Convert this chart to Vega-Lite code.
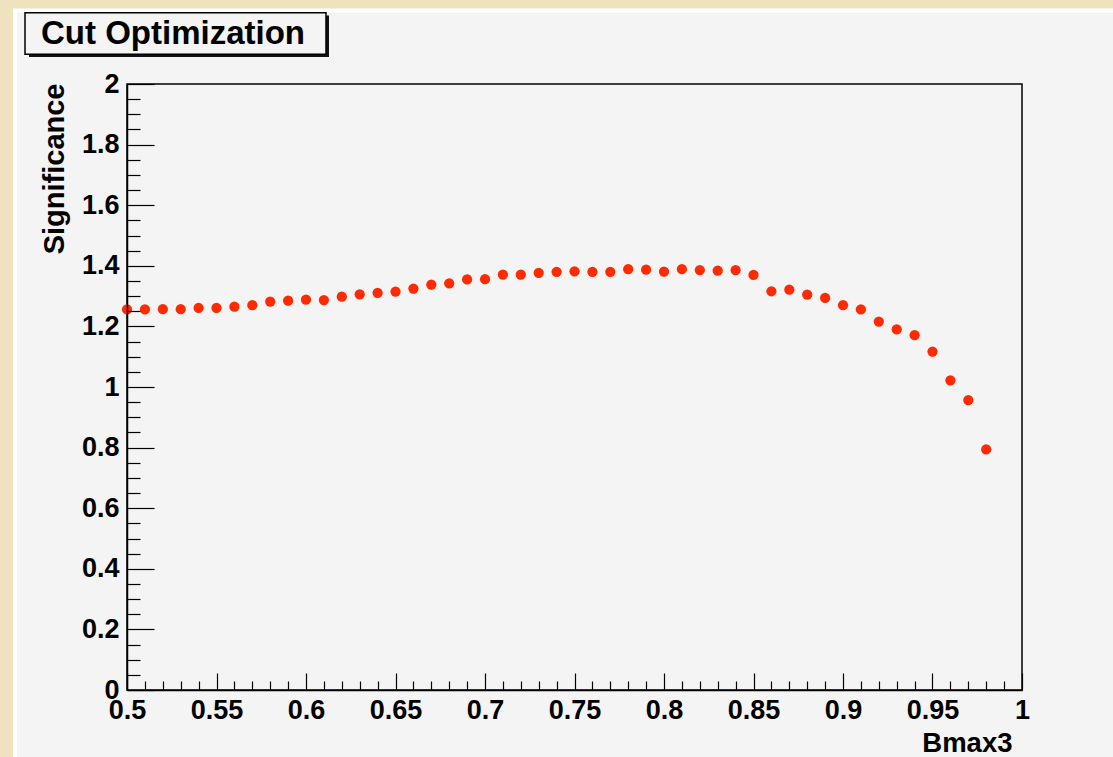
{
  "$schema": "https://vega.github.io/schema/vega-lite/v6.json",
  "width": 895,
  "height": 606,
  "autosize": {"type": "none"},
  "padding": {"left": 127, "top": 84, "right": 91, "bottom": 67},
  "background": "#efe2bf",
  "config": {
    "view": {"stroke": null, "fill": "#f4f4f4"},
    "font": "Liberation Sans",
    "axis": {"zindex": 1, "domainColor": "black", "tickColor": "black", "domainWidth": 1.5, "tickWidth": 1.2, "grid": false}
  },
  "title": {
    "text": "Cut Optimization",
    "anchor": "start",
    "frame": "group",
    "dx": -86,
    "offset": -69,
    "baseline": "alphabetic",
    "font": "Liberation Sans",
    "fontSize": 33,
    "fontWeight": "bold",
    "color": "black",
    "zindex": 1
  },
  "data": {"values": [
    {"cut": 0.50, "sig": 1.256}, {"cut": 0.51, "sig": 1.256}, {"cut": 0.52, "sig": 1.257}, {"cut": 0.53, "sig": 1.257},
    {"cut": 0.54, "sig": 1.261}, {"cut": 0.55, "sig": 1.261}, {"cut": 0.56, "sig": 1.265}, {"cut": 0.57, "sig": 1.270},
    {"cut": 0.58, "sig": 1.282}, {"cut": 0.59, "sig": 1.285}, {"cut": 0.60, "sig": 1.288}, {"cut": 0.61, "sig": 1.287},
    {"cut": 0.62, "sig": 1.298}, {"cut": 0.63, "sig": 1.306}, {"cut": 0.64, "sig": 1.311}, {"cut": 0.65, "sig": 1.315},
    {"cut": 0.66, "sig": 1.325}, {"cut": 0.67, "sig": 1.338}, {"cut": 0.68, "sig": 1.342}, {"cut": 0.69, "sig": 1.355},
    {"cut": 0.70, "sig": 1.356}, {"cut": 0.71, "sig": 1.371}, {"cut": 0.72, "sig": 1.371}, {"cut": 0.73, "sig": 1.377},
    {"cut": 0.74, "sig": 1.380}, {"cut": 0.75, "sig": 1.382}, {"cut": 0.76, "sig": 1.380}, {"cut": 0.77, "sig": 1.380},
    {"cut": 0.78, "sig": 1.389}, {"cut": 0.79, "sig": 1.387}, {"cut": 0.80, "sig": 1.381}, {"cut": 0.81, "sig": 1.389},
    {"cut": 0.82, "sig": 1.386}, {"cut": 0.83, "sig": 1.384}, {"cut": 0.84, "sig": 1.386}, {"cut": 0.85, "sig": 1.370},
    {"cut": 0.86, "sig": 1.316}, {"cut": 0.87, "sig": 1.321}, {"cut": 0.88, "sig": 1.305}, {"cut": 0.89, "sig": 1.294},
    {"cut": 0.90, "sig": 1.270}, {"cut": 0.91, "sig": 1.256}, {"cut": 0.92, "sig": 1.216}, {"cut": 0.93, "sig": 1.190},
    {"cut": 0.94, "sig": 1.171}, {"cut": 0.95, "sig": 1.117}, {"cut": 0.96, "sig": 1.022}, {"cut": 0.97, "sig": 0.957},
    {"cut": 0.98, "sig": 0.794}
  ]},
  "resolve": {"axis": {"x": "independent", "y": "independent"}},
  "layer": [
    {
      "data": {"values": [{}]},
      "mark": {"type": "rect", "fill": "#f4f4f4", "stroke": "white", "strokeWidth": 4, "clip": false},
      "encoding": {
        "x": {"datum": 0.4374, "type": "quantitative", "scale": {"domain": [0.5, 1], "nice": false, "zero": false}, "axis": null},
        "x2": {"datum": 1.2},
        "y": {"datum": 2.2426, "type": "quantitative", "scale": {"domain": [0, 2], "nice": false, "zero": false}, "axis": null},
        "y2": {"datum": -0.5}
      }
    },
    {
      "data": {"values": [{}]},
      "mark": {"type": "rect", "fill": "#111111", "clip": false},
      "encoding": {
        "x": {"datum": 0.44525, "type": "quantitative", "scale": {"domain": [0.5, 1], "nice": false, "zero": false}, "axis": null},
        "x2": {"datum": 0.61285},
        "y": {"datum": 2.2261, "type": "quantitative", "scale": {"domain": [0, 2], "nice": false, "zero": false}, "axis": null},
        "y2": {"datum": 2.0891}
      }
    },
    {
      "data": {"values": [{}]},
      "mark": {"type": "rect", "fill": "#f4f4f4", "stroke": "black", "strokeWidth": 1.5, "clip": false},
      "encoding": {
        "x": {"datum": 0.44302, "type": "quantitative", "scale": {"domain": [0.5, 1], "nice": false, "zero": false}, "axis": null},
        "x2": {"datum": 0.61117},
        "y": {"datum": 2.2353, "type": "quantitative", "scale": {"domain": [0, 2], "nice": false, "zero": false}, "axis": null},
        "y2": {"datum": 2.098}
      }
    },
    {
      "data": {"values": [{}]},
      "mark": {"type": "rect", "fill": null, "stroke": "black", "strokeWidth": 1.5, "clip": false},
      "encoding": {
        "x": {"datum": 0.5, "type": "quantitative", "scale": {"domain": [0.5, 1], "nice": false, "zero": false},
          "axis": {"orient": "bottom", "zindex": 1, "title": null, "labels": false, "domain": false, "tickSize": -9,
            "values": [0.51,0.52,0.53,0.54,0.56,0.57,0.58,0.59,0.61,0.62,0.63,0.64,0.66,0.67,0.68,0.69,0.71,0.72,0.73,0.74,0.76,0.77,0.78,0.79,0.81,0.82,0.83,0.84,0.86,0.87,0.88,0.89,0.91,0.92,0.93,0.94,0.96,0.97,0.98,0.99]}},
        "x2": {"datum": 1},
        "y": {"datum": 0, "type": "quantitative", "scale": {"domain": [0, 2], "nice": false, "zero": false},
          "axis": {"orient": "left", "zindex": 1, "title": null, "labels": false, "domain": false, "tickSize": -13,
            "values": [0.05,0.1,0.15,0.25,0.3,0.35,0.45,0.5,0.55,0.65,0.7,0.75,0.85,0.9,0.95,1.05,1.1,1.15,1.25,1.3,1.35,1.45,1.5,1.55,1.65,1.7,1.75,1.85,1.9,1.95]}},
        "y2": {"datum": 2}
      }
    },
    {
      "mark": {"type": "circle", "size": 105, "color": "#ff2a00", "opacity": 1},
      "encoding": {
        "x": {"field": "cut", "type": "quantitative", "scale": {"domain": [0.5, 1], "nice": false, "zero": false},
          "axis": {"orient": "bottom", "zindex": 1, "tickSize": -17, "labelPadding": 24, "format": "~g", "labelFlush": false, "labelOverlap": false,
            "values": [0.5,0.55,0.6,0.65,0.7,0.75,0.8,0.85,0.9,0.95,1],
            "labelFont": "Liberation Sans", "labelFontWeight": "bold", "labelFontSize": 27, "labelColor": "black",
            "title": "Bmax3", "titleFont": "Liberation Sans", "titleFontWeight": "bold", "titleFontSize": 27.5, "titleColor": "black",
            "titleAnchor": "end", "titleAlign": "right", "titleBaseline": "alphabetic", "titleX": 885, "titleY": 61}},
        "y": {"field": "sig", "type": "quantitative", "scale": {"domain": [0, 2], "nice": false, "zero": false},
          "axis": {"orient": "left", "zindex": 1, "tickSize": -27, "labelPadding": 35, "format": "~g", "labelFlush": false, "labelOverlap": false,
            "values": [0,0.2,0.4,0.6,0.8,1,1.2,1.4,1.6,1.8,2],
            "labelFont": "Liberation Sans", "labelFontWeight": "bold", "labelFontSize": 27, "labelColor": "black",
            "title": "Significance", "titleFont": "Liberation Sans", "titleFontWeight": "bold", "titleFontSize": 29, "titleColor": "black",
            "titleAngle": 270, "titleAnchor": "end", "titleAlign": "right", "titleBaseline": "alphabetic", "titleX": -64, "titleY": -1}}
      }
    }
  ]
}
